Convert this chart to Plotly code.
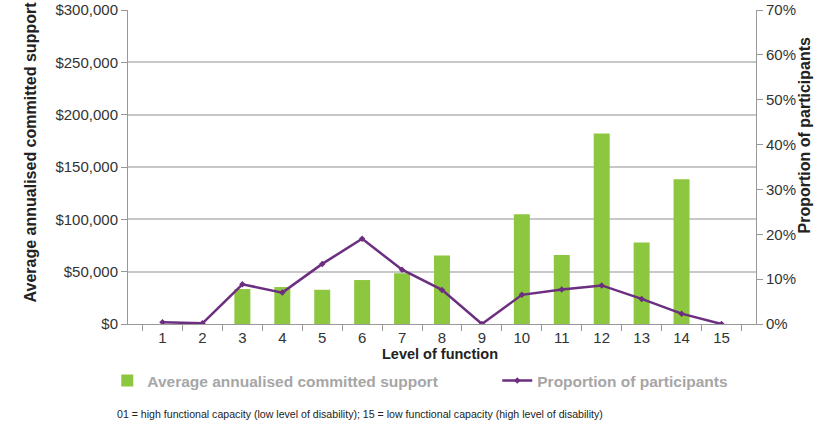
import plotly.graph_objects as go

# level of function 1..15
levels = [str(i) for i in range(1, 16)]
avg_support = [0, 0, 33400, 35300, 32700, 42000, 48500, 65400, 0,
               104800, 66000, 182000, 77900, 138200, 0]
prop_participants = [0.004, 0.0015, 0.0885, 0.070, 0.134, 0.190, 0.121, 0.076, 0.0,
                     0.065, 0.077, 0.086, 0.056, 0.023, 0.0]

left_ticks = [0, 50000, 100000, 150000, 200000, 250000, 300000]
left_labels = ["$0", "$50,000", "$100,000", "$150,000", "$200,000", "$250,000", "$300,000"]
right_ticks = [0, 0.1, 0.2, 0.3, 0.4, 0.5, 0.6, 0.7]
right_labels = ["0%", "10%", "20%", "30%", "40%", "50%", "60%", "70%"]

GREEN = "#8DC63F"
PURPLE = "#6B2E80"
FONT = "Liberation Sans, Arial, sans-serif"
LEGEND_FONT = dict(size=15.5, color="#a6a6a6", family=FONT, weight="bold")

fig = go.Figure()
fig.add_trace(go.Bar(
    x=levels, y=avg_support, name="Average annualised committed support",
    marker=dict(color=GREEN, line=dict(width=0)), legend="legend",
))
fig.add_trace(go.Scatter(
    x=levels, y=prop_participants, name="Proportion of participants",
    yaxis="y2", mode="lines+markers", legend="legend2",
    line=dict(color=PURPLE, width=2.5),
    marker=dict(symbol="diamond", size=5, color=PURPLE),
))

fig.update_layout(
    width=827, height=433,
    margin=dict(l=128, r=71, t=10, b=109, autoexpand=False),
    paper_bgcolor="white", plot_bgcolor="white",
    font=dict(family=FONT, size=15, color="#333333"),
    bargap=0.6,
    showlegend=True,
    legend=dict(x=-0.033, xanchor="left", y=0.12, yref="container",
                yanchor="middle", font=LEGEND_FONT, itemwidth=30),
    legend2=dict(x=0.588, xanchor="left", y=0.12, yref="container",
                 yanchor="middle", font=LEGEND_FONT, itemwidth=30),
    xaxis=dict(
        type="category", tickson="boundaries", ticks="outside", ticklen=6,
        tickcolor="#999999", showline=True, linecolor="#999999", linewidth=1,
        showgrid=False, tickfont=dict(size=15), tickangle=0,
    ),
    yaxis=dict(
        range=[0, 300000], tickvals=left_ticks, ticktext=left_labels,
        ticks="outside", ticklen=6, tickcolor="#999999",
        showline=True, linecolor="#999999", linewidth=1,
        showgrid=True, gridcolor="#c8c8c8", gridwidth=2, zeroline=False,
        tickfont=dict(size=15),
    ),
    yaxis2=dict(
        range=[0, 0.7], tickvals=right_ticks, ticktext=right_labels,
        overlaying="y", side="right",
        ticks="outside", ticklen=6, tickcolor="#999999",
        showline=True, linecolor="#999999", linewidth=1,
        showgrid=False, zeroline=False, tickfont=dict(size=15),
    ),
)

# axis titles (placed off-centre like the original)
fig.add_annotation(text="<b>Average annualised committed support</b>",
                   xref="paper", yref="paper", x=-0.172, y=0.548,
                   textangle=-90, showarrow=False,
                   font=dict(size=16, color="#222222"))
fig.add_annotation(text="<b>Proportion of participants</b>",
                   xref="paper", yref="paper", x=1.094, y=0.602,
                   textangle=-90, showarrow=False,
                   font=dict(size=16, color="#222222"))
fig.add_annotation(text="<b>Level of function</b>",
                   xref="paper", yref="paper", x=0.497, y=-0.127,
                   showarrow=False, font=dict(size=14.5, color="#222222"))
fig.add_annotation(text="01 = high functional capacity (low level of disability); "
                        "15 = low functional capacity (high level of disability)",
                   xref="paper", yref="paper", x=-0.021, xanchor="left", y=-0.312,
                   showarrow=False, font=dict(size=10.6, color="#222222"))

fig.write_html("out.html", config={"displayModeBar": False},
               post_script="document.body.style.margin='0';")
